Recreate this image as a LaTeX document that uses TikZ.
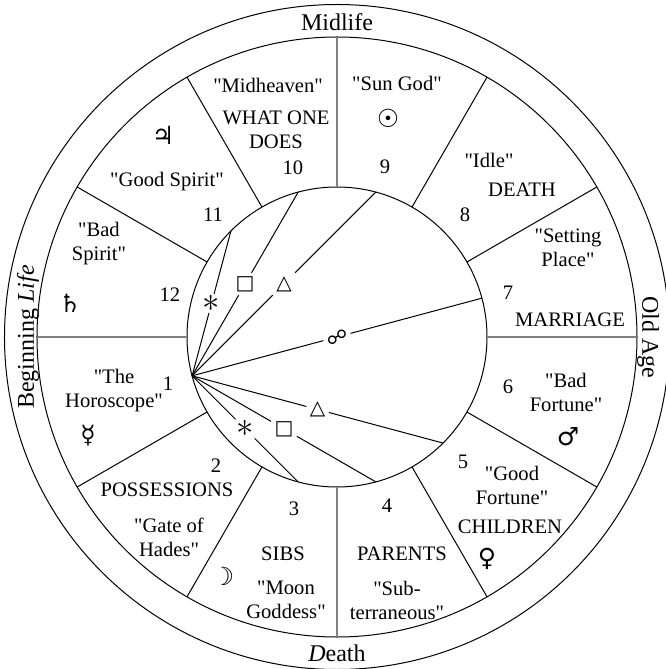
\documentclass[tikz,border=0pt]{standalone}
\usepackage{amssymb}
\usepackage{fontspec}
\setmainfont{Liberation Serif}[Ligatures=TeXOff]
\newfontfamily\symfont{DejaVu Sans}
\usetikzlibrary{calc}

\begin{document}
\begin{tikzpicture}[x=0.5pt,y=0.5pt,font=\fontsize{10.3}{12}\selectfont,line width=0.5pt]
  \tikzstyle{lbl}=[align=center,inner sep=0pt]
  \tikzstyle{age}=[inner sep=0pt,font=\fontsize{12}{14}\selectfont]
  \tikzstyle{planet}=[font=\symfont\fontsize{12.5}{14}\selectfont,inner sep=0pt]
  \tikzstyle{asp}=[fill=white,inner sep=1.5pt,font=\symfont\fontsize{10}{11}\selectfont]
  \tikzstyle{sxt}=[asp,inner sep=0.5pt,font=\fontsize{17}{18}\selectfont]
  \tikzstyle{axis}=[line width=0.7pt,gray]
  \useasboundingbox (-337,-332) rectangle (328,337);
  % rings
  \draw (0,0) circle (332.5);
  \draw (0,0) circle (300);
  \draw (0,0) circle (150);
  % house cusps
  \foreach \a in {30,60,120,150,210,240,300,330}
    \draw (\a:150) -- (\a:300);
  \foreach \a in {0,90,180,270}
    \draw[axis] (\a:150) -- (\a:300);
  % stages of life
  \node[age] (mid) at (90:315) {Midlife};
  \node[age,rotate=-90] (old) at (0:311) {Old Age};
  \node[age] (dth) at (270:316) {\textit{D}eath};
  \node[age,rotate=90] (beg) at (180:309) {Beginning \textit{Life}};
  % house 1
  \node[lbl] (h1a) at (-223,-54) {"The\\Horoscope"};
  \node[lbl] (h1) at (-169,-47) {1};
  \node[planet] (mer) at (-249,-99) {☿};
  % house 2
  \node[lbl] (h2) at (-121,-129) {2};
  \node[lbl] (h2a) at (-170,-153) {POSSESSIONS};
  \node[lbl] (h2b) at (-168,-200) {"Gate of\\Hades"};
  % house 3
  \node[lbl] (h3) at (-43,-172) {3};
  \node[lbl] (h3a) at (-54,-217) {SIBS};
  \node[planet] (moo) at (-114,-239) {☽};
  \node[lbl] (h3b) at (-51,-263) {"Moon\\Goddess"};
  % house 4
  \node[lbl] (h4) at (50,-169) {4};
  \node[lbl] (h4a) at (65,-217) {PARENTS};
  \node[lbl] (h4b) at (60,-263) {"Sub-\\terraneous"};
  % house 5
  \node[lbl] (h5) at (126,-125) {5};
  \node[lbl] (h5a) at (175,-148) {"Good\\Fortune"};
  \node[lbl] (h5b) at (173,-190) {CHILDREN};
  \node[planet] (ven) at (150,-222) {♀};
  % house 6
  \node[lbl] (h6) at (171,-50) {6};
  \node[lbl] (h6a) at (229,-55) {"Bad\\Fortune"};
  \node[planet] (mar) at (231,-100) {♂};
  % house 7
  \node[lbl] (h7a) at (231,89) {"Setting\\Place"};
  \node[lbl] (h7) at (171,44) {7};
  \node[lbl] (h7b) at (233,17) {MARRIAGE};
  % house 8
  \node[lbl] (h8a) at (152,177) {"Idle"};
  \node[lbl] (h8b) at (185,147) {DEATH};
  \node[lbl] (h8) at (128,122) {8};
  % house 9
  \node[lbl] (h9a) at (60,254) {"Sun God"};
  \node[planet] (sun) at (51,219) {☉};
  \node[lbl] (h9) at (48,170) {9};
  % house 10
  \node[lbl] (h10a) at (-69,252) {"Midheaven"};
  \node[lbl] (h10b) at (-61,207) {WHAT ONE\\DOES};
  \node[lbl] (h10) at (-44,169) {10};
  % house 11
  \node[planet] (jup) at (-174,202) {♃};
  \node[lbl] (h11a) at (-170,155) {"Good Spirit"};
  \node[lbl] (h11) at (-124,122) {11};
  % house 12
  \node[lbl] (h12a) at (-238,93) {"Bad\\Spirit"};
  \node[lbl] (h12) at (-167,42) {12};
  \node[planet] (sat) at (-267,34) {♄};
  % aspects
  \coordinate (asc) at (195:150);
  \foreach \a in {15,75,105,135,255,285,315}
    \coordinate (p\a) at (\a:150);
  \node[asp] (opp) at ($(asc)!0.5!(p15)$) {☍};
  \node[asp] (tri1) at ($(asc)!0.5!(p75)$) {△};
  \node[asp] (tri2) at ($(asc)!0.5!(p315)$) {△};
  \node[asp] (sq1) at ($(asc)!0.5!(p105)$) {□};
  \node[asp] (sq2) at ($(asc)!0.5!(p285)$) {□};
  \node[sxt] (sx1) at ($(asc)!0.5!(p135)$) {$\ast$};
  \node[sxt] (sx2) at ($(asc)!0.5!(p255)$) {$\ast$};
  \path
    (asc) edge (opp) (opp) edge (p15)
    (asc) edge (tri1) (tri1) edge (p75)
    (asc) edge (tri2) (tri2) edge (p315)
    (asc) edge (sq1) (sq1) edge (p105)
    (asc) edge (sq2) (sq2) edge (p285)
    (asc) edge (sx1) (sx1) edge (p135)
    (asc) edge (sx2) (sx2) edge (p255);
\end{tikzpicture}
\end{document}
